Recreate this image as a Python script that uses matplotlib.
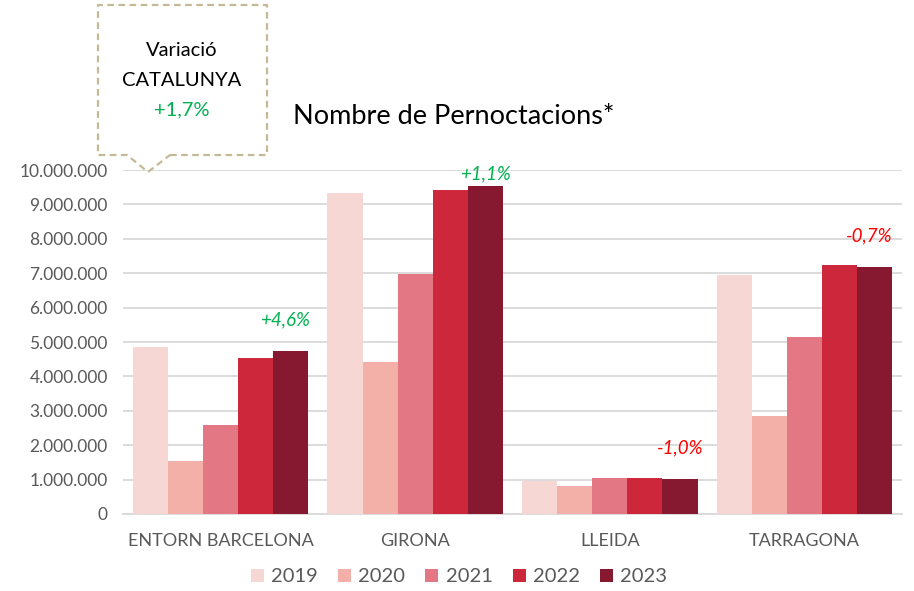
import matplotlib

matplotlib.use("Agg")

import matplotlib.pyplot as plt
import numpy as np
from matplotlib.lines import Line2D
from matplotlib.ticker import FuncFormatter

plt.rcParams["font.family"] = ["Lato", "DejaVu Sans"]

categories = ["ENTORN BARCELONA", "GIRONA", "LLEIDA", "TARRAGONA"]
years = ["2019", "2020", "2021", "2022", "2023"]
values = {
    "2019": [4_850_000, 9_330_000, 960_000, 6_950_000],
    "2020": [1_540_000, 4_420_000, 820_000, 2_850_000],
    "2021": [2_590_000, 6_980_000, 1_050_000, 5_150_000],
    "2022": [4_530_000, 9_420_000, 1_040_000, 7_240_000],
    "2023": [4_740_000, 9_530_000, 1_030_000, 7_190_000],
}
variation_labels = ["+4,6%", "+1,1%", "-1,0%", "-0,7%"]
catalunya_label = "+1,7%"

colors = ["#F7D7D3", "#F2B0A8", "#E37784", "#CD273B", "#86182F"]
green = "#00B050"
red = "#FF0000"
grey_text = "#595959"

W, H = 914, 591
fig = plt.figure(figsize=(W / 100, H / 100), dpi=100)
ax = fig.add_axes([123 / W, 1 - 514 / H, (902 - 123) / W, (514 - 170) / H])

x = np.arange(len(categories))
width = 0.18
for i, year in enumerate(years):
    ax.bar(x + (i - 2) * width, values[year], width, color=colors[i], label=year, zorder=3)

ax.set_xlim(-0.5, len(categories) - 0.5)
ax.set_ylim(0, 10_000_000)
ax.set_yticks(np.arange(0, 10_000_001, 1_000_000))
ax.yaxis.set_major_formatter(FuncFormatter(lambda v, p: f"{int(v):,}".replace(",", ".")))
ax.set_xticks(x)
ax.set_xticklabels(categories)
ax.tick_params(axis="both", length=0, labelsize=12.5, colors=grey_text)
ax.tick_params(axis="x", pad=14, labelsize=13)
ax.tick_params(axis="y", pad=11)
ax.grid(axis="y", color="#D9D9D9", lw=1.3, zorder=0)
for side in ["top", "right", "left"]:
    ax.spines[side].set_visible(False)
ax.spines["bottom"].set_color("#D9D9D9")
ax.spines["bottom"].set_linewidth(1.3)

# variation labels above the 2023 bars
label_offsets = [(-4, 16), (0, 3), (0, 16), (-4, 16)]
for i, txt in enumerate(variation_labels):
    col = green if txt.startswith("+") else red
    ax.annotate(txt, (x[i] + 2 * width, values["2023"][i]), xytext=label_offsets[i],
                textcoords="offset points", ha="center", va="bottom",
                fontsize=13.5, style="italic", color=col, annotation_clip=False)

fig.text(454 / W, 1 - 117 / H, "Nombre de Pernoctacions*", ha="center", va="center",
         fontsize=19.5, color="black")

# callout box
def px(xp, yp):
    return xp / W, 1 - yp / H

box_pts = [(170, 155), (267, 155), (267, 5), (98, 5), (98, 155), (127, 155), (148, 172), (170, 155)]
bx, by = zip(*[px(a, b) for a, b in box_pts])
fig.add_artist(Line2D(bx, by, transform=fig.transFigure, color="#C4B995", lw=1.6,
                      linestyle=(0, (3, 2))))
fig.text(182 / W, 1 - 50 / H, "Variació", ha="center", va="center", fontsize=14.5)
fig.text(182 / W, 1 - 80 / H, "CATALUNYA", ha="center", va="center", fontsize=14.5)
fig.text(182 / W, 1 - 110 / H, catalunya_label, ha="center", va="center", fontsize=14.5, color=green)

leg = fig.legend(loc="center", bbox_to_anchor=(459 / W, 1 - 577 / H), ncol=5, frameon=False,
                 fontsize=14.5, handlelength=0.65, handleheight=0.65, handletextpad=0.35,
                 columnspacing=1.0, labelcolor=grey_text)

fig.savefig("out.png", dpi=100)
